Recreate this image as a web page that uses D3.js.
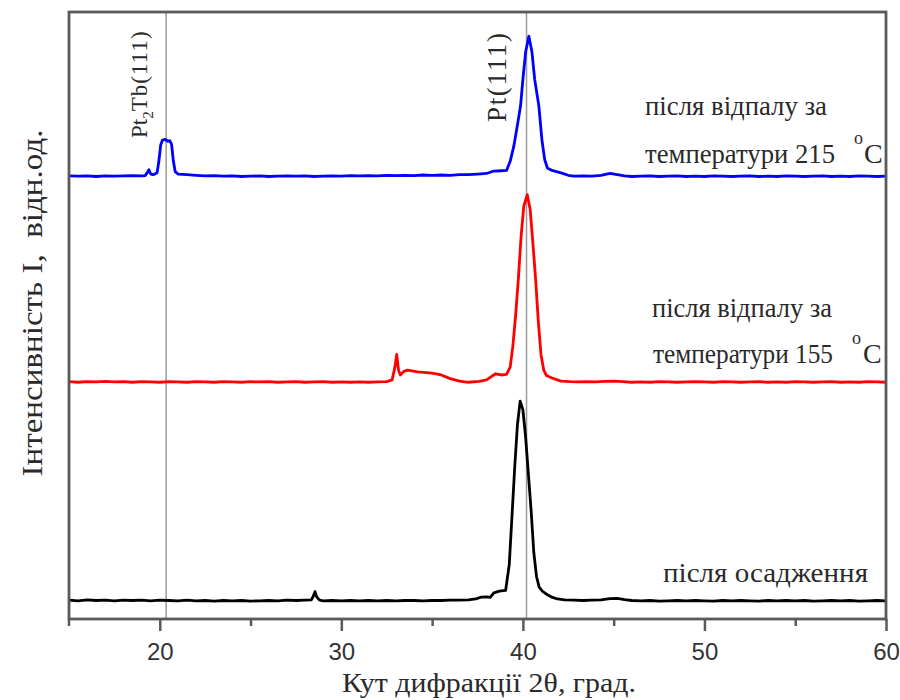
<!DOCTYPE html>
<html>
<head>
<meta charset="utf-8">
<script src="https://cdn.jsdelivr.net/npm/d3@7"></script>
<style>
  body { margin: 0; background: #fff; }
  svg { display: block; }
</style>
</head>
<body>
<script>
/*** Data ***/
// 2theta (deg) vs intensity above each curve's own baseline (arb. units)
const asDeposited = [
  [15,0.1],[15.5,0.0],[16,0.15],[16.5,0.05],[17,0.1],[17.5,0.0],[18,0.1],[18.5,0.05],
  [19,0.1],[19.5,0.0],[20,0.1],[20.5,0.05],[21,0.0],[21.5,0.1],[22,0.0],[22.5,0.05],
  [23,-0.05],[23.5,0.05],[24,0.0],[24.5,0.05],[25,-0.05],[25.5,0.0],[26,0.05],[26.5,0.0],
  [27,0.1],[27.5,0.05],[28,0.1],[28.35,0.15],[28.45,0.7],[28.55,1.5],[28.65,0.6],[28.8,0.1],
  [29,0.0],[29.5,0.05],[30,0.0],[30.5,0.05],[31,0.0],[31.5,0.05],[32,0.0],[32.5,0.05],
  [33,0.0],[33.5,0.05],[34,0.05],[34.5,0.0],[35,0.05],[35.5,0.05],[36,0.1],[36.5,0.1],
  [37,0.15],[37.4,0.3],[37.7,0.6],[38.0,0.65],[38.2,0.55],[38.4,1.3],[38.7,1.6],[39.05,1.7],
  [39.25,6],[39.4,14],[39.55,22],[39.7,29],[39.85,32.9],[40.0,31.5],[40.15,27],[40.3,21],
  [40.45,15],[40.6,8],[40.75,4],[40.9,2.2],[41.1,1.5],[41.35,1.0],[41.6,0.6],[41.9,0.3],
  [42.3,0.15],[42.8,0.1],[43.3,0.05],[43.8,0.1],[44.3,0.15],[44.8,0.35],[45.2,0.4],[45.6,0.2],
  [46,0.05],[46.5,0.0],[47,0.05],[47.5,-0.05],[48,0.0],[48.5,0.05],[49,0.0],[49.5,0.05],
  [50,0.0],[50.5,-0.05],[51,0.05],[51.5,0.0],[52,0.05],[52.5,0.0],[53,-0.05],[53.5,0.05],
  [54,0.0],[54.5,0.05],[55,0.0],[55.5,0.05],[56,-0.05],[56.5,0.0],[57,0.05],[57.5,0.0],
  [58,0.05],[58.5,-0.05],[59,0.0],[59.5,0.05],[60,0.0]
]

const annealed155 = [
  [15,0.1],[15.5,0.0],[16,0.1],[16.5,0.05],[17,0.15],[17.5,0.05],[18,0.1],[18.5,0.0],
  [19,0.1],[19.5,0.05],[20,0.0],[20.5,0.1],[21,0.05],[21.5,0.0],[22,0.1],[22.5,0.05],
  [23,0.0],[23.5,0.1],[24,0.05],[24.5,0.0],[25,0.1],[25.5,0.05],[26,0.1],[26.5,0.0],
  [27,0.05],[27.5,0.1],[28,0.0],[28.5,0.05],[29,0.1],[29.5,0.0],[30,0.05],[30.5,0.0],
  [31,0.05],[31.5,0.0],[32,0.05],[32.5,0.1],[32.8,0.4],[32.95,2.5],[33.05,4.6],[33.15,2.0],
  [33.25,1.2],[33.45,1.8],[33.65,2.0],[34.2,1.7],[34.7,1.6],[35.0,1.5],[35.5,1.2],[36.0,0.6],
  [36.5,0.2],[37.0,0.0],[37.6,0.15],[38.0,0.4],[38.3,1.0],[38.5,1.4],[38.8,1.2],[39.1,1.3],
  [39.3,2.5],[39.45,6],[39.6,11],[39.75,17],[39.9,24],[40.05,29],[40.24,30.9],[40.4,28.5],
  [40.55,23],[40.7,17],[40.85,10],[41.0,4.5],[41.15,2],[41.3,1.1],[41.6,0.7],[42.1,0.2],
  [42.6,0.1],[43,0.05],[43.5,0.1],[44,0.05],[44.5,0.15],[45,0.2],[45.5,0.1],[46,0.0],
  [46.5,0.05],[47,0.0],[47.5,0.1],[48,0.05],[48.5,0.0],[49,0.05],[49.5,0.1],[50,0.05],
  [50.5,0.0],[51,0.1],[51.5,0.05],[52,0.0],[52.5,0.05],[53,0.1],[53.5,0.0],[54,0.05],
  [54.5,0.0],[55,0.1],[55.5,0.05],[56,0.0],[56.5,0.05],[57,0.1],[57.5,0.0],[58,0.05],
  [58.5,0.0],[59,0.1],[59.5,0.05],[60,0.0]
]

const annealed215 = [
  [15,0.1],[15.5,0.05],[16,0.1],[16.5,0.0],[17,0.1],[17.5,0.05],[18,0.1],[18.5,0.15],
  [19,0.1],[19.2,0.15],[19.3,0.6],[19.4,1.1],[19.5,0.4],[19.65,0.3],[19.85,0.6],[19.95,2.5],
  [20.05,5.2],[20.15,6.0],[20.3,6.1],[20.45,5.8],[20.55,5.9],[20.65,5.3],[20.75,2.5],[20.85,0.8],
  [21.0,0.4],[21.5,0.3],[22,0.2],[22.5,0.1],[23,0.15],[23.5,0.05],[24,0.1],[24.5,0.0],
  [25,0.05],[25.5,0.1],[26,0.0],[26.5,0.05],[27,0.1],[27.5,0.05],[28,0.1],[28.5,0.0],
  [29,0.05],[29.5,0.1],[30,0.05],[30.5,0.15],[31,0.1],[31.5,0.15],[32,0.1],[32.5,0.2],
  [33,0.15],[33.5,0.2],[34,0.15],[34.5,0.25],[35,0.2],[35.5,0.25],[36,0.2],[36.5,0.3],
  [37,0.3],[37.5,0.4],[38.0,0.5],[38.4,0.9],[38.8,0.95],[39.1,1.0],[39.3,2.5],[39.5,5],
  [39.7,8.5],[39.87,11.6],[40.0,16],[40.15,20.5],[40.33,23.1],[40.5,20.5],[40.65,16],[40.88,11.6],
  [41.05,6],[41.2,2.8],[41.35,1.4],[41.6,1.0],[42.1,0.6],[42.5,0.2],[42.8,0.05],[43.3,0.1],
  [43.8,0.05],[44.3,0.2],[44.8,0.5],[45.2,0.3],[45.6,0.1],[46,0.0],[46.5,0.05],[47,0.1],
  [47.5,0.0],[48,0.05],[48.5,0.1],[49,0.0],[49.5,0.05],[50,0.0],[50.5,0.1],[51,0.05],
  [51.5,0.0],[52,0.05],[52.5,0.1],[53,0.0],[53.5,0.05],[54,0.0],[54.5,0.1],[55,0.05],
  [55.5,0.0],[56,0.05],[56.5,0.1],[57,0.0],[57.5,0.05],[58,0.0],[58.5,0.1],[59,0.05],
  [59.5,0.0],[60,0.05]
]

// vertical shift of each pattern (same units as intensity)
const seriesOffsets = [3.0, 39.0, 72.9]
const seriesColors = ['#000000', '#ff0000', '#0000ff']

const xTicks = [20, 30, 40, 50, 60]
const xMinorTicks = [25, 35, 45, 55]
const peakLines = [20.35, 40.2]

/*** Chart ***/
function renderChart(){
  w = 900
  h = 700

  svg = d3.select('body')
          .append('svg')
          .attr('width', w)
          .attr('height', h)

  xScale = d3.scaleLinear()
             .domain([15, 60])
             .range([69, 886])

  yScale = d3.scaleLinear()
             .domain([0, 100])
             .range([619, 12])

  // reference lines
  svg.selectAll('.ref')
     .data(peakLines)
     .enter()
     .append('line')
       .attr('x1', d => xScale(d))
       .attr('x2', d => xScale(d))
       .attr('y1', yScale(100))
       .attr('y2', yScale(0))
       .attr('stroke', '#9a9a9a')
       .attr('stroke-width', 1.5)

  // patterns
  const series = [asDeposited, annealed155, annealed215]
  const line = d3.line()

  series.forEach((pts, i) => {
    line.x(d => xScale(d[0]))
        .y(d => yScale(d[1] + seriesOffsets[i]))
    svg.append('path')
       .attr('d', line(pts))
       .attr('fill', 'none')
       .attr('stroke', seriesColors[i])
       .attr('stroke-width', 2.8)
       .attr('stroke-linejoin', 'round')
  })

  // frame
  const frameColor = '#5a5a5a'
  svg.append('rect')
     .attr('x', xScale(15))
     .attr('y', yScale(100))
     .attr('width', xScale(60) - xScale(15))
     .attr('height', yScale(0) - yScale(100))
     .attr('fill', 'none')
     .attr('stroke', frameColor)
     .attr('stroke-width', 2.8)

  // x axis
  xAxis = d3.axisBottom(xScale)
            .tickValues(xTicks)
            .tickSize(12)
            .tickSizeOuter(0)

  gx = svg.append('g')
          .attr('transform', `translate(0, ${yScale(0)})`)
          .call(xAxis)
  gx.select('.domain').remove()
  gx.selectAll('line').attr('stroke', frameColor).attr('stroke-width', 2.5)
  gx.selectAll('text')
    .attr('y', 41)
    .attr('dy', 0)
    .attr('font-family', '"Liberation Sans", Arial, sans-serif')
    .attr('font-size', 24)
    .attr('fill', '#333')

  xMinor = d3.axisBottom(xScale)
             .tickValues(xMinorTicks)
             .tickSize(7)
             .tickSizeOuter(0)
             .tickFormat('')
  gm = svg.append('g')
          .attr('transform', `translate(0, ${yScale(0)})`)
          .call(xMinor)
  gm.select('.domain').remove()
  gm.selectAll('line').attr('stroke', frameColor).attr('stroke-width', 2.5)

  // left edge tick
  svg.append('line')
     .attr('x1', xScale(15)).attr('x2', xScale(15))
     .attr('y1', yScale(0)).attr('y2', yScale(0) + 7)
     .attr('stroke', frameColor).attr('stroke-width', 2.5)

  const serif = '"Liberation Serif", "Times New Roman", serif'
  const ink = '#2a2a2a'

  // axis titles
  svg.append('text')
     .attr('x', 489)
     .attr('y', 692)
     .attr('text-anchor', 'middle')
     .attr('font-family', serif)
     .attr('font-size', 28)
     .attr('fill', ink)
     .attr('textLength', 294)
     .attr('lengthAdjust', 'spacingAndGlyphs')
     .text('Кут дифракції 2θ, град.')

  svg.append('text')
     .attr('transform', 'translate(42, 303) rotate(-90)')
     .attr('text-anchor', 'middle')
     .attr('font-family', serif)
     .attr('font-size', 30)
     .attr('fill', ink)
     .attr('textLength', 347)
     .attr('lengthAdjust', 'spacingAndGlyphs')
     .attr('xml:space', 'preserve')
     .text('Інтенсивність I,  відн.од.')

  // peak labels
  t1 = svg.append('text')
          .attr('transform', 'translate(147, 138) rotate(-90)')
          .attr('font-family', serif)
          .attr('font-size', 23)
          .attr('fill', ink)
  t1.append('tspan').text('Pt')
  t1.append('tspan').attr('dy', 6).attr('font-size', 15).text('2')
  t1.append('tspan').attr('dy', -6).attr('textLength', 80).attr('lengthAdjust', 'spacing').text('Tb(111)')

  svg.append('text')
     .attr('transform', 'translate(506, 122) rotate(-90)')
     .attr('font-family', serif)
     .attr('font-size', 27)
     .attr('fill', ink)
     .attr('textLength', 89)
     .attr('lengthAdjust', 'spacing')
     .text('Pt(111)')

  // curve annotations
  function note(x, y, len, str){
    svg.append('text')
       .attr('x', x)
       .attr('y', y)
       .attr('font-family', serif)
       .attr('font-size', 28)
       .attr('fill', ink)
       .attr('textLength', len)
       .attr('lengthAdjust', 'spacingAndGlyphs')
       .text(str)
  }
  function tempNote(x, y, len, temp, degX, cX){
    t = svg.append('text')
           .attr('y', y)
           .attr('font-family', serif)
           .attr('font-size', 28)
           .attr('fill', ink)
    t.append('tspan')
     .attr('x', x)
     .attr('textLength', len)
     .attr('lengthAdjust', 'spacingAndGlyphs')
     .text('температури ' + temp)
    t.append('tspan')
     .attr('x', degX).attr('dy', -19).attr('font-size', 18)
     .text('o')
    t.append('tspan')
     .attr('x', cX).attr('dy', 19)
     .text('C')
  }

  note(645, 115, 182, 'після відпалу за')
  tempNote(645, 163, 190, '215', 854, 864)

  note(652, 317, 180, 'після відпалу за')
  tempNote(653, 363, 180, '155', 852, 863)

  note(663, 582, 205, 'після осадження')
}

renderChart()
</script>
</body>
</html>
